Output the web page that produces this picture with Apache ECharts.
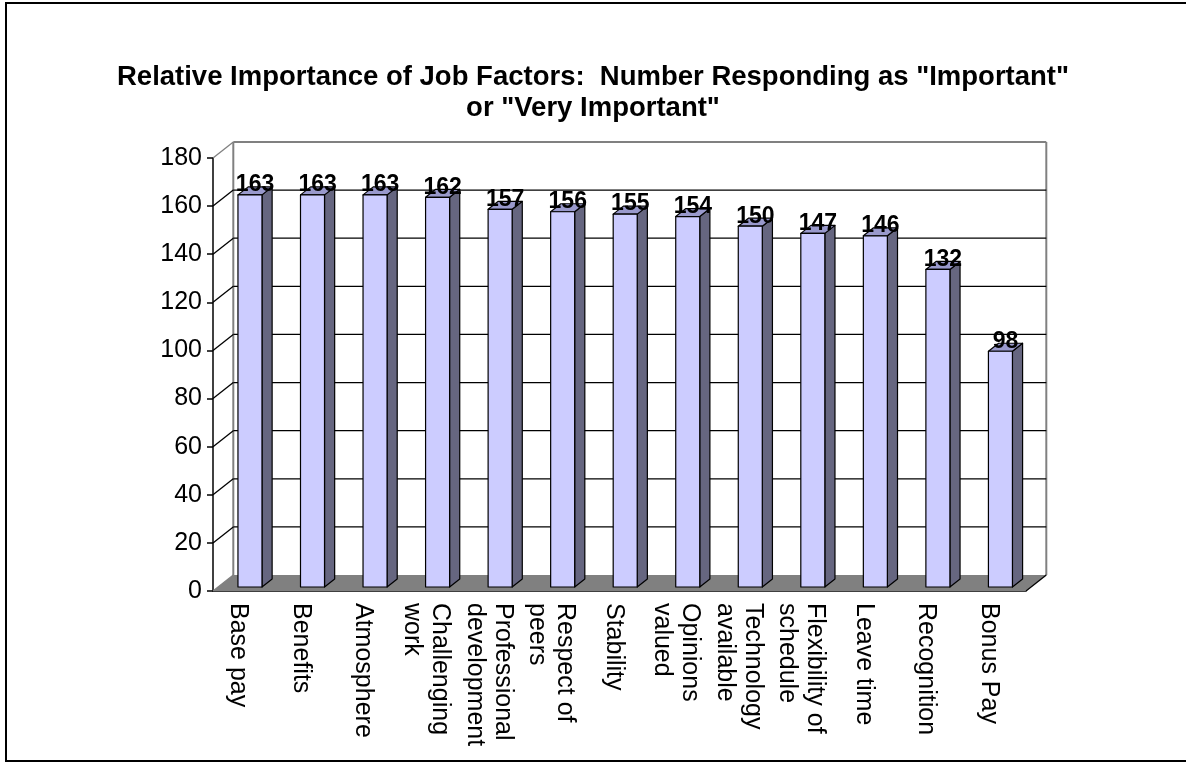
<!DOCTYPE html>
<html>
<head>
<meta charset="utf-8">
<script src="https://cdn.jsdelivr.net/npm/echarts@6/dist/echarts.min.js"></script>
<style>
  html, body { margin: 0; padding: 0; background: #fff; }
  #chart { width: 1186px; height: 763px; }
</style>
</head>
<body>
<div id="chart"></div>
<script>
// Survey results: number of respondents rating each job factor as important
const categories = [
  'Base pay', 'Benefits', 'Atmosphere', 'Challenging\nwork',
  'Professional\ndevelopment', 'Respect of\npeers', 'Stability',
  'Opinions\nvalued', 'Technology\navailable', 'Flexibility of\nschedule',
  'Leave time', 'Recognition', 'Bonus Pay'
];
const responses = [163, 163, 163, 162, 157, 156, 155, 154, 150, 147, 146, 132, 98];
const yTicks = [0, 20, 40, 60, 80, 100, 120, 140, 160, 180];

const FONT = 'Arial, "Liberation Sans", sans-serif';
// depth of the 3D box (pixel offset from front plane to back wall)
const DX = 20.3, DY = -16;
const FRONT = '#CCCCFF', SIDE = '#666680', TOP = '#9999CC';

const chart = echarts.init(document.getElementById('chart'));

// back wall gridlines + left wall diagonals, one per tick value
function renderGrid(params, api) {
  const cs = params.coordSys;
  const v = api.value(0);
  const y = api.coord([0, v])[1];
  const x0 = cs.x, x1 = cs.x + cs.width;
  const edge = (v === 0 || v === yTicks[yTicks.length - 1]);
  const col = edge ? '#808080' : '#000';
  const children = [
    { type: 'line', shape: { x1: x0, y1: y, x2: x0 + DX, y2: y + DY },
      style: { stroke: col, lineWidth: 1.3 } }
  ];
  if (v !== 0) {
    children.push({ type: 'line', shape: { x1: x0 + DX, y1: y + DY, x2: x1 + DX, y2: y + DY },
      style: { stroke: col, lineWidth: edge ? 2 : 1.3 } });
  }
  return { type: 'group', children };
}

// floor slab and the vertical edges of the back wall
function renderFrame(params, api) {
  const cs = params.coordSys;
  const x0 = cs.x, x1 = cs.x + cs.width;
  const yb = api.coord([0, 0])[1];
  const yt = api.coord([0, yTicks[yTicks.length - 1]])[1];
  return {
    type: 'group',
    children: [
      { type: 'line', shape: { x1: x0 + DX, y1: yt + DY, x2: x0 + DX, y2: yb + DY },
        style: { stroke: '#808080', lineWidth: 2 } },
      { type: 'line', shape: { x1: x1 + DX, y1: yt + DY, x2: x1 + DX, y2: yb + DY },
        style: { stroke: '#808080', lineWidth: 2 } },
      { type: 'polygon', shape: { points: [[x0, yb], [x1, yb], [x1 + DX, yb + DY], [x0 + DX, yb + DY]] },
        style: { fill: '#808080' } },
      { type: 'line', shape: { x1: x1, y1: yb, x2: x1 + DX, y2: yb + DY },
        style: { stroke: '#000', lineWidth: 1.3 } }
    ]
  };
}

// 3D column: front face, right side, top face and value label
function renderBar(params, api) {
  const i = api.value(0), v = api.value(1);
  const top = api.coord([i, v]);
  const base = api.coord([i, 0]);
  const band = api.size([1, 0])[0];
  const w = band * 0.384;
  const fx = DX * 0.25, fy = DY * 0.25;     // front face sits a quarter into the depth
  const bx = DX * 0.5, by = DY * 0.5;       // bar depth
  const cx = top[0] + fx + band * 0.01;
  const l = cx - w / 2, r = cx + w / 2;
  const t = top[1] + fy, b = base[1] + fy;
  const stroke = { stroke: '#000', lineWidth: 1.2, lineJoin: 'round' };
  return {
    type: 'group',
    children: [
      { type: 'polygon', shape: { points: [[r, t], [r + bx, t + by], [r + bx, b + by], [r, b]] },
        style: Object.assign({ fill: SIDE }, stroke) },
      { type: 'polygon', shape: { points: [[l, t], [l + bx, t + by], [r + bx, t + by], [r, t]] },
        style: Object.assign({ fill: TOP }, stroke) },
      { type: 'rect', shape: { x: l, y: t, width: w, height: b - t },
        style: Object.assign({ fill: FRONT }, stroke) },
      { type: 'text', z2: 10,
        style: { text: String(v), x: cx + bx / 2, y: t - 10, align: 'center', verticalAlign: 'middle',
          fill: '#000', font: 'bold 23px ' + FONT } }
    ]
  };
}

chart.setOption({
  animation: false,
  backgroundColor: '#fff',
  title: {
    text: 'Relative Importance of Job Factors:  Number Responding as "Important"\nor "Very Important"',
    left: 'center',
    top: 57,
    textStyle: { fontFamily: FONT, fontSize: 27.5, fontWeight: 'bold', color: '#000', lineHeight: 31 }
  },
  graphic: [
    { type: 'rect', shape: { x: 6, y: 3, width: 1200, height: 758 },
      style: { fill: 'none', stroke: '#000', lineWidth: 2 }, z: 100 }
  ],
  grid: { left: 213, right: 160, top: 158, bottom: 172 },
  xAxis: {
    type: 'category',
    data: categories,
    axisLine: { lineStyle: { color: '#000', width: 1.5 } },
    axisTick: { length: 6, lineStyle: { color: '#000', width: 1.5 } },
    axisLabel: {
      rotate: -90, interval: 0, margin: 12, color: '#000',
      fontFamily: FONT, fontSize: 25,
      // a short spacer line ahead of the text nudges each label block off the tick centre
      formatter: (s) => '{g| }\n' + s.split('\n').map(l => '{t|' + l + '}').join('\n'),
      rich: {
        g: { fontSize: 2, lineHeight: 12 },
        t: { fontFamily: FONT, fontSize: 25, lineHeight: 28, color: '#000' }
      }
    },
    splitLine: { show: false }
  },
  yAxis: {
    type: 'value',
    min: 0, max: 180, interval: 20,
    axisLine: { show: true, lineStyle: { color: '#000', width: 1.5 } },
    axisTick: { show: true, length: 6, lineStyle: { color: '#000', width: 1.5 } },
    axisLabel: { color: '#000', fontFamily: FONT, fontSize: 25, margin: 11 },
    splitLine: { show: false }
  },
  series: [
    { type: 'custom', name: 'frame', renderItem: renderFrame, data: [[0]], z: 1, silent: true },
    { type: 'custom', name: 'grid', renderItem: renderGrid, data: yTicks.map(v => [v]), z: 2, silent: true },
    { type: 'custom', name: 'Responses', renderItem: renderBar,
      data: responses.map((v, i) => [i, v]), encode: { x: 0, y: 1 }, z: 3 }
  ]
});
</script>
</body>
</html>
